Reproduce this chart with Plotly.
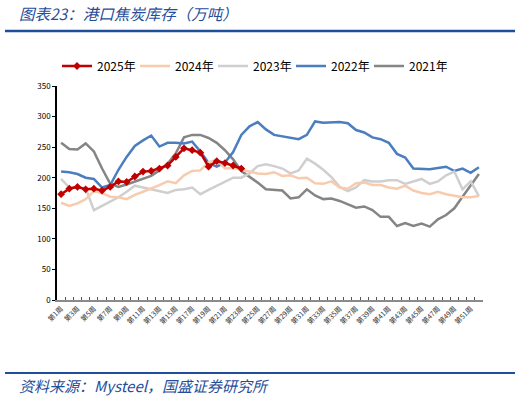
import plotly.graph_objects as go

weeks = [f"第{i}周" for i in range(1, 53)]
tick_text = [w if (i % 2 == 0) else "" for i, w in enumerate(weeks)]

y2025 = [173, 182, 185, 181, 182, 179, 185, 194, 193, 202, 210, 211, 215, 220, 234, 248,
         245, 241, 218, 227, 224, 220, 215]
y2024 = [159, 154, 158, 165, 178, 175, 169, 168, 165, 172, 177, 182, 188, 194, 191, 204,
         211, 212, 225, 229, 215, 216, 213, 211, 207, 206, 209, 203, 204, 199, 200, 191,
         190, 194, 184, 182, 191, 192, 188, 188, 184, 182, 187, 179, 175, 173, 177, 173,
         170, 168, 168, 170]
y2023 = [198, 184, 184, 183, 147, 154, 161, 168, 177, 187, 184, 181, 177, 175, 180, 181,
         184, 173, 180, 187, 193, 200, 200, 207, 219, 222, 219, 215, 207, 212, 231, 223,
         213, 201, 185, 178, 184, 196, 194, 194, 196, 196, 190, 194, 198, 190, 194, 204,
         210, 181, 194, 170]
y2022 = [210, 209, 206, 200, 198, 184, 188, 213, 234, 252, 261, 269, 251, 257, 257, 256,
         259, 243, 224, 218, 225, 242, 270, 284, 291, 279, 270, 268, 266, 263, 270, 292,
         290, 290, 291, 289, 278, 274, 266, 263, 257, 239, 233, 215, 215, 214, 216, 218,
         211, 215, 208, 217]
y2021 = [257, 247, 246, 256, 243, 215, 190, 185, 189, 194, 198, 203, 212, 223, 240, 266,
         270, 270, 265, 257, 245, 230, 211, 202, 192, 181, 180, 179, 166, 168, 181, 171,
         165, 166, 162, 157, 151, 153, 147, 136, 136, 121, 126, 121, 125, 120, 132, 139,
         150, 169, 188, 206]

series = [
    ("2021年", y2021, "#858585", None),
    ("2022年", y2022, "#4a7ebf", None),
    ("2023年", y2023, "#cfcfcf", None),
    ("2024年", y2024, "#f8cbad", None),
    ("2025年", y2025, "#c00000", "diamond"),
]

fig = go.Figure()
for name, vals, color, marker in series:
    fig.add_trace(go.Scatter(
        x=weeks[:len(vals)], y=vals, name=name,
        mode="lines+markers" if marker else "lines",
        line=dict(color=color, width=2.5),
        marker=dict(symbol=marker or "circle", size=6, color=color) if marker else None,
    ))

W, H = 520, 399
L, R, T, B = 57, 483, 86, 300
ph = B - T
pw = R - L

def py(v):
    return (B - v) / ph

def px(v):
    return (v - L) / pw

blue = "#1f4e9b"
fig.update_layout(
    width=W, height=H,
    margin=dict(l=L, r=W - R, t=T, b=H - B, pad=0, autoexpand=False),
    paper_bgcolor="white", plot_bgcolor="white",
    font=dict(family="Noto Sans CJK SC, sans-serif", color="#000"),
    showlegend=True,
    legend=dict(orientation="h", x=px(57), y=py(66), xanchor="left", yanchor="middle",
                traceorder="reversed", font=dict(size=12, color="#000"),
                itemwidth=30, entrywidth=33, entrywidthmode="pixels",
                bgcolor="rgba(0,0,0,0)"),
    xaxis=dict(type="category", categoryorder="array", categoryarray=weeks,
               tickvals=weeks, ticktext=tick_text, tickangle=-45,
               tickson="boundaries", ticks="inside", ticklen=3, tickcolor="#555",
               tickfont=dict(size=7, color="#333"), automargin=False,
               showline=True, linecolor="#8a8a8a", linewidth=2,
               showgrid=False, zeroline=False, range=[-0.5, 51.5]),
    yaxis=dict(range=[0, 350], dtick=50, tick0=0, ticks="outside", ticklen=3,
               tickcolor="#000", tickfont=dict(size=8, color="#000"), automargin=False,
               showline=True, linecolor="#000", linewidth=1.5,
               showgrid=False, zeroline=False),
    shapes=[
        dict(type="line", xref="paper", yref="paper", x0=px(5), x1=px(515),
             y0=py(31), y1=py(31), line=dict(color=blue, width=2.5)),
        dict(type="line", xref="paper", yref="paper", x0=px(5), x1=px(515),
             y0=py(373), y1=py(373), line=dict(color=blue, width=2)),
    ],
    annotations=[
        dict(text="图表23：港口焦炭库存（万吨）", xref="paper", yref="paper",
             x=px(17), y=py(13), xanchor="left", yanchor="middle", showarrow=False,
             font=dict(size=15.5, color=blue, style="italic")),
        dict(text="资料来源：Mysteel，国盛证券研究所", xref="paper", yref="paper",
             x=px(17), y=py(385), xanchor="left", yanchor="middle", showarrow=False,
             font=dict(size=15, color=blue, style="italic")),
    ],
)

fig.write_html("out.html", config={"displayModeBar": False},
               post_script="document.body.style.margin='0';document.body.style.padding='0';")
